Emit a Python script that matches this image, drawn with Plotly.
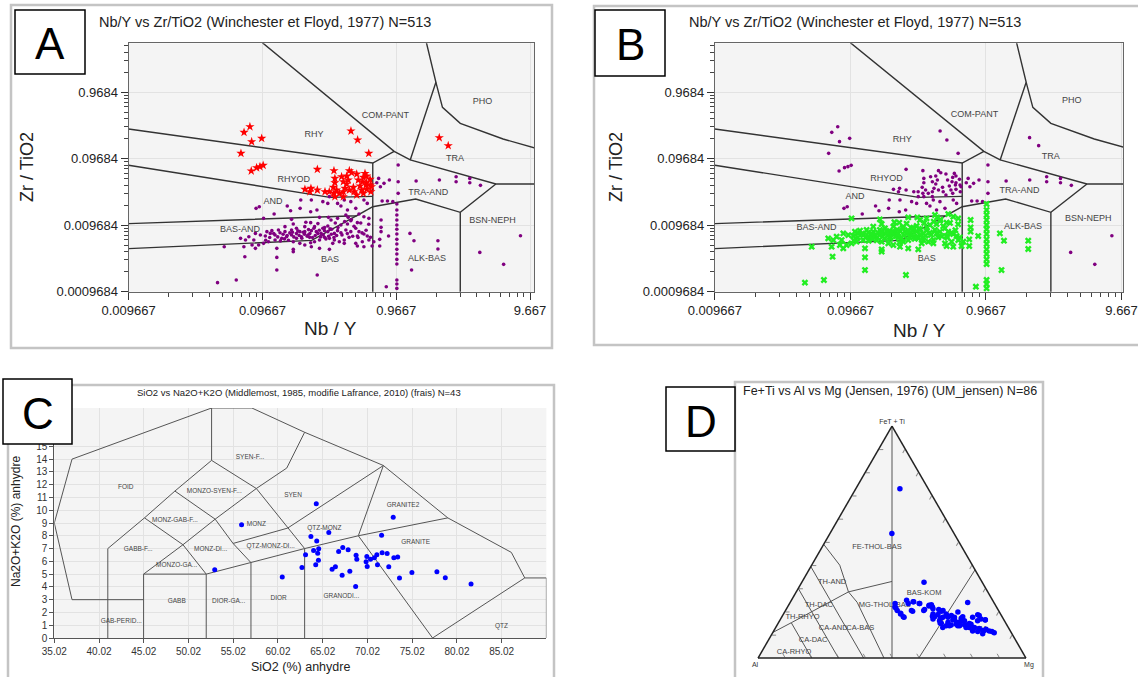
import plotly.graph_objects as go

W, H = 1138, 677
FONT = "Liberation Sans, Arial, Helvetica, sans-serif"


def X(p):
    return p / W


def Y(p):
    return 1 - p / H


# ================= Panels A & B : Nb/Y vs Zr/TiO2 (values stored as log10) =================
nby_ticks = [0.009667, 0.09667, 0.9667, 9.667]
nby_ticktext = ["0.009667", "0.09667", "0.9667", "9.667"]
zrti_ticks = [0.0009684, 0.009684, 0.09684, 0.9684]
zrti_ticktext = ["0.0009684", "0.009684", "0.09684", "0.9684"]

# group 1 : felsic samples (red stars in A, purple in B)
g1_log_nby = [-1.108, -1.152, -1.095, -1.02, -1.175, -1.098, -1.058, -1.033, -1.009, -0.353,
              -0.303, -0.22, -0.604, -0.48, -0.365, -0.348, -0.31, -0.248, -0.236, -0.26,
              -0.473, -0.473, -0.41, -0.385, -0.298, -0.265, -0.21, -0.485, -0.46, -0.398,
              -0.335, -0.285, -0.24, -0.206, -0.697, -0.652, -0.604, -0.66, -0.547, -0.515,
              -0.48, -0.44, -0.41, -0.365, -0.33, -0.473, -0.41, -0.31, -0.26, -0.204,
              -0.199, -0.236, -0.273, -0.385, -0.423, -0.373, -0.236, 0.307, 0.374]
g1_log_zrti = [-0.533, -0.618, -0.758, -0.708, -0.934, -1.199, -1.149, -1.134, -1.114, -0.598,
               -0.733, -0.934, -1.174, -1.194, -1.194, -1.225, -1.245, -1.235, -1.275, -1.295,
               -1.31, -1.375, -1.36, -1.395, -1.335, -1.36, -1.325, -1.445, -1.485, -1.46,
               -1.445, -1.425, -1.41, -1.41, -1.475, -1.46, -1.485, -1.51, -1.51, -1.51,
               -1.535, -1.535, -1.51, -1.485, -1.51, -1.585, -1.585, -1.56, -1.535, -1.51,
               -1.435, -1.475, -1.485, -1.275, -1.285, -1.335, -1.375, -0.698, -0.818]

# group 2 : intermediate / alkaline samples (purple in A and B)
g2_log_nby = [-1.062, -1.038, -0.927, -0.829, -0.804, -0.733, -0.654, -0.607, -0.563, -0.526,
              -0.453, -0.428, -0.403, -0.354, -0.317, -0.379, -0.256, -0.231, -0.728, -0.649,
              -0.514, -0.146, -0.106, -0.066, 0.0, 0.0, 0.0, 0.134, 0.308, 0.433,
              0.433, 0.535, 0.535, 0.615, -0.12, -0.08, -0.04, -0.133, -0.16, 0.914,
              0.61, 0.788]
g2_log_zrti = [-1.761, -1.736, -1.846, -1.726, -1.796, -1.761, -1.811, -1.786, -1.66, -1.686,
               -1.686, -1.726, -1.635, -1.66, -1.761, -1.786, -1.635, -1.686, -1.635, -1.635,
               -1.585, -1.31, -1.385, -1.335, -1.109, -1.36, -1.535, -1.35, -1.335, -1.285,
               -1.36, -1.31, -1.375, -1.415, -1.651, -1.651, -1.66, -1.435, -1.375, -2.172,
               -2.423, -2.603]

# group 3 : mafic samples (purple in A, green crosses in B)
g3_log_nby = [-1.006, -0.797, -0.654, -0.588, -0.521, -0.502, -0.453, -0.391, -0.374, -0.354,
              -0.293, -0.256, -0.219, -0.305, -0.379, -0.428, -0.526, -0.563, -0.625, -0.698,
              -0.784, -0.846, -0.895, -0.944, -0.981, -1.03, -1.067, -1.116, -1.178, -1.141,
              -1.079, -0.993, -0.956, -0.92, -0.883, -0.846, -0.797, -0.76, -0.735, -0.698,
              -0.674, -0.649, -0.612, -0.576, -0.551, -0.526, -0.497, -0.477, -0.453, -0.428,
              -0.391, -0.354, -0.317, -0.293, -0.256, -0.231, -0.207, -0.305, -0.367, -0.403,
              -0.44, -0.477, -0.514, -0.551, -0.588, -0.625, -0.662, -0.723, -0.76, -0.797,
              -0.834, -0.87, -0.92, -0.969, -1.006, -1.043, -1.092, -1.153, -1.3, -0.784,
              -0.735, -0.698, -0.649, -0.588, -0.489, -0.403, -0.317, -0.268, -0.219, -0.182,
              -0.138, -0.128, -0.128, -0.128, -0.072, -0.01, -0.01, -0.01, -0.01, -0.01,
              -0.01, -0.01, -0.01, -0.01, -0.01, -0.01, -0.01, -0.01, -0.01, -0.01,
              -0.01, -0.089, 0.1, 0.088, 0.118, 0.297, 0.297, -0.138, -0.195, -0.256,
              -0.305, -0.784, -0.907, -0.907, -0.907, -1.146, -1.21, -1.35, -0.605, -0.514,
              -0.784, -0.654, -1.067,
              -0.86, -0.83, -0.81, -0.78, -0.76, -0.74, -0.72, -0.70, -0.68, -0.66,
              -0.64, -0.62, -0.60, -0.58, -0.56, -0.54, -0.52, -0.50, -0.48, -0.46,
              -0.90, -0.93, -0.96, -0.99, -0.88, -0.85, -0.82, -0.79, -0.75, -0.71,
              -0.67, -0.63, -0.59, -0.55, -0.51, -0.45, -0.42, -0.38, -0.34, -0.30,
              -0.27, -0.24, -0.22, -0.35, -0.40, -0.47, -0.60, -0.69, -0.33, -0.28]
g3_log_zrti = [-1.911, -1.926, -1.976, -1.896, -1.896, -1.936, -1.911, -1.861, -1.896, -1.946,
               -1.846, -1.886, -1.911, -1.976, -1.996, -2.011, -2.026, -2.061, -2.036, -2.036,
               -1.996, -2.036, -2.086, -2.096, -2.111, -2.162, -2.137, -2.187, -2.212, -2.237,
               -2.237, -2.177, -2.137, -2.162, -2.127, -2.111, -2.086, -2.061, -2.111, -2.111,
               -2.162, -2.096, -2.111, -2.137, -2.096, -2.111, -2.076, -2.137, -2.096, -2.127,
               -2.086, -2.111, -2.061, -2.111, -2.147, -2.177, -2.197, -2.177, -2.197, -2.237,
               -2.262, -2.237, -2.212, -2.197, -2.237, -2.262, -2.197, -2.187, -2.212, -2.162,
               -2.187, -2.212, -2.237, -2.262, -2.287, -2.312, -2.312, -2.337, -2.337, -2.262,
               -2.287, -2.312, -2.337, -2.362, -2.287, -2.287, -2.287, -2.262, -2.237, -2.262,
               -2.227, -1.936, -2.046, -2.111, -2.177, -1.695, -1.786, -1.861, -1.936, -2.011,
               -2.076, -2.147, -2.227, -2.297, -2.377, -2.447, -2.528, -2.598, -2.838, -2.899,
               -2.964, -2.939, -2.688, -2.137, -2.247, -2.247, -2.372, -2.327, -2.327, -2.337,
               -2.327, -2.377, -2.362, -2.498, -2.688, -2.488, -2.838, -2.878, -2.763, -2.377,
               -2.412, -2.277, -2.362,
               -2.15, -2.17, -2.13, -2.19, -2.14, -2.17, -2.21, -2.15, -2.18, -2.14,
               -2.20, -2.17, -2.14, -2.19, -2.16, -2.22, -2.18, -2.15, -2.20, -2.17,
               -2.19, -2.14, -2.20, -2.24, -2.25, -2.22, -2.24, -2.12, -2.10, -2.12,
               -2.08, -2.06, -2.09, -2.05, -2.07, -2.05, -2.16, -2.14, -2.18, -2.20,
               -2.13, -2.09, -2.00, -1.93, -1.96, -1.98, -1.99, -1.97, -2.03, -1.98]

# Winchester & Floyd field boundaries (log10 Nb/Y, log10 Zr/TiO2)
wf_lines = [
    ([-2.0147, -0.19, -0.03], [-0.567, -1.079, -0.904]),
    ([-1.015, -0.03, 0.09, 0.73, 1.02], [0.73, -0.904, -1.033, -1.394, -1.394]),
    ([-0.19, -0.19], [-1.079, -3.02]),
    ([0.09, 0.282, 0.211], [-1.033, 0.134, 0.73]),
    ([0.282, 0.331, 0.464, 0.784, 1.02], [0.134, -0.242, -0.483, -0.718, -0.853]),
    ([-2.0147, -0.76, -0.51, -0.19], [-1.112, -1.52, -1.596, -1.581]),
    ([-2.0147, -0.31, -0.19, 0.131, 0.464, 0.73], [-1.99, -1.871, -1.736, -1.62, -1.82, -1.394]),
    ([-2.0147, -0.646, -0.31], [-2.366, -2.242, -1.871]),
    ([0.464, 0.464], [-1.82, -3.02]),
]
wf_names = ["RHY", "COM-PANT", "PHO", "TRA", "RHYOD", "AND", "TRA-AND", "BSN-NEPH",
            "BAS-AND", "BAS", "ALK-BAS"]
wfA_lab_x = [-0.629, -0.096, 0.63, 0.424, -0.781, -0.935, 0.224, 0.704, -1.183, -0.509, 0.216]
wfA_lab_y = [-0.657, -0.367, -0.152, -1.018, -1.334, -1.661, -1.529, -1.946, -2.086, -2.533, -2.513]
wfB_lab_x = [-0.633, -0.099, 0.618, 0.463, -0.748, -0.981, 0.232, 0.74, -1.264, -0.452, 0.258]
wfB_lab_y = [-0.733, -0.357, -0.142, -0.984, -1.309, -1.585, -1.5, -1.921, -2.052, -2.512, -2.036]

# ================= Panel C : TAS (Middlemost 1985, modified) =================
sio2 = [64.3, 72.9, 65.7, 71.6, 63.7, 64.35, 67.26, 67.86, 66.8, 64.57, 63.1, 64.0, 64.46,
        68.75, 68.83, 69.95, 70.36, 70.8, 71.07, 71.66, 72.22, 72.97, 73.4, 69.87, 69.99,
        71.14, 72.4, 64.54, 64.24, 62.7, 66.44, 66.07, 68.05, 67.19, 74.99, 73.6, 77.78,
        78.72, 81.6, 68.7, 60.5, 55.95, 52.95]
alk = [10.5, 9.45, 8.26, 8.05, 7.94, 7.6, 7.08, 6.9, 6.77, 6.98, 6.51, 6.85, 6.64,
       6.48, 6.17, 6.38, 6.17, 6.28, 6.51, 6.67, 6.61, 6.28, 6.33, 5.96, 5.6,
       5.73, 5.57, 6.09, 5.73, 5.52, 5.57, 5.39, 5.23, 4.92, 5.13, 4.69, 5.18,
       4.71, 4.22, 4.04, 4.77, 8.86, 5.34]
sio2_ticks = [35.02, 40.02, 45.02, 50.02, 55.02, 60.02, 65.02, 70.02, 75.02, 80.02, 85.02]
alk_ticks = [0, 1, 2, 3, 4, 5, 6, 7, 8, 9, 10, 11, 12, 13, 14, 15]
tas_lines = [
    ([45, 37, 35.02, 37, 52.6, 57.1, 63, 71.8, 79, 86.1, 87.6, 90.02, 90.02],
     [3, 3, 9, 14, 18, 18, 16.1, 13.5, 9.4, 6.7, 4.7, 4.7, 0]),
    ([41, 41, 45.1, 48.5, 52.6, 52.6], [0, 7, 9.4, 11.5, 13.9, 18]),
    ([45, 45, 52, 52], [0, 5, 5, 0]),
    ([45, 49.4, 52], [5, 7.3, 5]),
    ([45.1, 49.4, 53, 48.5], [9.4, 7.3, 9.3, 11.5]),
    ([52.6, 57.6, 53, 55, 57, 57], [13.9, 11.7, 9.3, 7.4, 5.9, 0]),
    ([57.6, 61.1, 63, 63], [11.7, 8.6, 7, 0]),
    ([57.6, 61, 63], [11.7, 13.3, 16.1]),
    ([52, 57, 63, 69, 79], [5, 5.9, 7, 8, 9.4]),
    ([55, 61.1, 71.8], [7.4, 8.6, 13.5]),
    ([71.8, 69, 77.3, 87.6], [13.5, 8, 0, 4.7]),
]
tas_names = ["FOID", "SYEN-F...", "MONZO-SYEN-F...", "SYEN", "MONZ-GAB-F...", "MONZ", "QTZ-MONZ",
             "GRANITE2", "GRANITE", "QTZ-MONZ-DI...", "MONZ-DI...", "GABB-F...", "MONZO-GA...",
             "GABB", "DIOR-GA...", "DIOR", "GRANODI...", "GAB-PERID...", "QTZ"]
tas_lab_x = [43.0, 56.9, 52.9, 61.7, 48.5, 57.6, 65.2, 74.0, 75.4, 59.2, 52.5, 44.4, 48.7,
             48.7, 54.5, 60.1, 67.1, 42.5, 85.0]
tas_lab_y = [11.8, 14.1, 11.5, 11.2, 9.24, 8.9, 8.6, 10.4, 7.5, 7.15, 6.96, 6.96, 5.7,
             2.88, 2.9, 3.14, 3.27, 1.3, 0.94]

# ================= Panel D : Jensen (1976) cation plot (%) =================
fe_ti = [72.9, 53.7, 32.7, 24.9, 23.5, 21.5, 19.0, 17.6, 24.2, 23.5,
         20.5, 20.9, 22.4, 23.0, 21.2, 18.0, 20.9, 20.5, 17.1, 15.0,
         19.0, 17.6, 18.3, 16.8, 19.8, 17.1, 15.4, 16.1, 23.9, 14.2,
         14.6, 13.1, 18.6, 16.8, 16.5, 12.7, 11.9, 12.4, 11.6, 10.9,
         13.1, 13.9, 14.2, 13.9, 16.8, 15.0, 22.0, 20.5, 19.3, 17.8,
         23.5, 24.2, 23.5, 20.2, 20.5, 22.7, 22.0, 17.8, 16.1, 20.2,
         18.3, 17.6, 16.1, 18.3, 16.4, 11.9, 14.9, 14.3, 15.4, 14.6,
         16.4, 15.4, 17.6, 18.7, 19.0, 13.9, 13.9, 13.1, 11.6, 11.4,
         10.5, 11.4, 16.1, 17.6, 17.8, 13.1]
al = [10.6, 23.2, 21.7, 32.1, 37.1, 37.8, 37.3, 36.7, 30.0, 27.9,
      32.5, 27.4, 25.0, 23.8, 24.1, 25.9, 22.1, 20.7, 23.4, 24.1,
      20.3, 20.3, 18.7, 18.3, 15.5, 15.6, 18.1, 14.9, 9.8, 15.2,
      13.2, 12.7, 8.7, 8.4, 6.9, 11.1, 10.2, 8.7, 7.9, 6.4,
      14.6, 17.8, 20.8, 22.8, 26.3, 24.5, 37.9, 37.8, 37.1, 36.9,
      32.2, 29.8, 28.1, 32.2, 27.9, 24.8, 23.9, 25.2, 24.2, 21.5,
      20.4, 17.9, 16.1, 8.3, 7.0, 9.6, 13.7, 15.8, 17.1, 18.7,
      19.1, 21.4, 22.2, 23.5, 25.2, 21.6, 18.5, 15.8, 14.1, 12.3,
      10.9, 7.0, 10.0, 11.1, 14.7, 24.5]
mg = [16.5, 23.1, 45.6, 43.0, 39.4, 40.7, 43.7, 45.7, 45.8, 48.6,
      47.0, 51.7, 52.6, 53.2, 54.7, 56.1, 57.0, 58.8, 59.5, 60.9,
      60.7, 62.1, 63.0, 64.9, 64.7, 67.3, 66.5, 69.0, 66.3, 70.6,
      72.2, 74.2, 72.7, 74.8, 76.6, 76.2, 77.9, 78.9, 80.5, 82.7,
      72.3, 68.3, 65.0, 63.3, 56.9, 60.5, 40.1, 41.7, 43.6, 45.3,
      44.3, 46.0, 48.4, 47.6, 51.6, 52.5, 54.1, 57.0, 59.7, 58.3,
      61.3, 64.5, 67.8, 73.4, 76.6, 78.5, 71.4, 69.9, 67.5, 66.7,
      64.5, 63.2, 60.2, 57.8, 55.8, 64.5, 67.6, 71.1, 74.3, 76.3,
      78.6, 81.6, 73.9, 71.3, 67.5, 62.4]
jensen_lines = [
    ([100, 0], [0, 50], [0, 50]),
    ([38, 0], [0, 40], [62, 60]),
    ([11, 15.2, 28.5, 33], [89, 80, 52, 33.5], [0, 4.8, 19.5, 33.5]),
    ([49, 40, 33, 28.5], [51, 49.5, 51, 52], [0, 10.5, 16, 19.5]),
    ([28.5, 24, 0], [52, 51, 53], [19.5, 25, 47]),
    ([39.4, 0], [60.6, 60.6], [0, 39.4]),
    ([30, 0], [70, 70], [0, 30]),
    ([15.2, 0], [80, 80], [4.8, 20]),
]
jensen_names = ["FE-THOL-BAS", "BAS-KOM", "MG-THOL-BAS", "TH-AND", "TH-DAC", "TH-RHYO",
                "CA-AND", "CA-BAS", "CA-DAC", "CA-RHYO", "KOM"]
jensen_lab_a = [48.0, 28.0, 23.0, 32.7, 23.0, 17.8, 12.7, 12.7, 7.7, 2.5, 12.4]
jensen_lab_b = [31.6, 24.0, 41.2, 56.0, 65.8, 74.5, 65.6, 55.5, 75.6, 85.3, 11.8]
jensen_lab_c = [20.4, 48.0, 35.8, 11.3, 11.2, 7.7, 21.7, 31.8, 16.7, 12.2, 75.8]


def pw(v):
    return [10 ** a for a in v]


fig = go.Figure()
LINE_WF = dict(color="#333333", width=1.4)
PURPLE = "#800080"

# ---------- panel A ----------
for lx, ly in wf_lines:
    fig.add_trace(go.Scatter(x=pw(lx), y=pw(ly), mode="lines", line=LINE_WF,
                             xaxis="x", yaxis="y", hoverinfo="skip"))
fig.add_trace(go.Scatter(x=pw(g2_log_nby + g3_log_nby), y=pw(g2_log_zrti + g3_log_zrti),
                         mode="markers", marker=dict(symbol="circle", size=3.6, color=PURPLE),
                         xaxis="x", yaxis="y"))
fig.add_trace(go.Scatter(x=pw(g1_log_nby), y=pw(g1_log_zrti), mode="markers",
                         marker=dict(symbol="star", size=7, color="#ff0000", line=dict(width=0)),
                         xaxis="x", yaxis="y"))
fig.add_trace(go.Scatter(x=pw(wfA_lab_x), y=pw(wfA_lab_y), mode="text", text=wf_names,
                         textfont=dict(size=9, color="#444", family=FONT), xaxis="x", yaxis="y"))

# ---------- panel B ----------
for lx, ly in wf_lines:
    fig.add_trace(go.Scatter(x=pw(lx), y=pw(ly), mode="lines", line=LINE_WF,
                             xaxis="x2", yaxis="y2", hoverinfo="skip"))
fig.add_trace(go.Scatter(x=pw(g1_log_nby + g2_log_nby), y=pw(g1_log_zrti + g2_log_zrti),
                         mode="markers", marker=dict(symbol="circle", size=3.6, color=PURPLE),
                         xaxis="x2", yaxis="y2"))
fig.add_trace(go.Scatter(x=pw(g3_log_nby), y=pw(g3_log_zrti), mode="markers",
                         marker=dict(symbol="x", size=6, color="#22ee22", line=dict(width=0)),
                         xaxis="x2", yaxis="y2"))
fig.add_trace(go.Scatter(x=pw(wfB_lab_x), y=pw(wfB_lab_y), mode="text", text=wf_names,
                         textfont=dict(size=9, color="#444", family=FONT), xaxis="x2", yaxis="y2"))

# ---------- panel C ----------
for lx, ly in tas_lines:
    fig.add_trace(go.Scatter(x=lx, y=ly, mode="lines", line=dict(color="#555555", width=1),
                             xaxis="x3", yaxis="y3", hoverinfo="skip"))
fig.add_trace(go.Scatter(x=tas_lab_x, y=tas_lab_y, mode="text", text=tas_names,
                         textfont=dict(size=6.5, color="#444", family=FONT), xaxis="x3", yaxis="y3"))
fig.add_trace(go.Scatter(x=sio2, y=alk, mode="markers",
                         marker=dict(symbol="circle", size=5, color="#0000ff"),
                         xaxis="x3", yaxis="y3"))

# ---------- panel D ----------
for la, lb, lc in jensen_lines:
    fig.add_trace(go.Scatterternary(a=la, b=lb, c=lc, mode="lines",
                                    line=dict(color="#555555", width=1), subplot="ternary",
                                    hoverinfo="skip"))
fig.add_trace(go.Scatterternary(a=jensen_lab_a, b=jensen_lab_b, c=jensen_lab_c, mode="text",
                                text=jensen_names, textfont=dict(size=7.5, color="#444", family=FONT),
                                subplot="ternary"))
fig.add_trace(go.Scatterternary(a=fe_ti, b=al, c=mg, mode="markers",
                                marker=dict(symbol="circle", size=5.5, color="#0000ff"),
                                subplot="ternary"))

nby_minor = [k * t for t in nby_ticks for k in range(2, 10)]
zrti_minor = [k * t for t in zrti_ticks for k in range(2, 10)]


def wf_axis(dom, rng, anchor, vals, text, minor):
    return dict(type="log", domain=dom, range=rng, anchor=anchor, tickmode="array",
                tickvals=vals, ticktext=text, ticks="outside", ticklen=7, tickwidth=1,
                tickcolor="#333", showline=True, linecolor="#666", linewidth=1, mirror=True,
                showgrid=True, gridcolor="#e2e2e2", zeroline=False, fixedrange=True,
                automargin=False,
                tickfont=dict(size=13, color="#222", family=FONT),
                minor=dict(tickmode="array", tickvals=minor, ticks="outside", ticklen=4,
                           tickcolor="#444", showgrid=False))


tern_axis = dict(showticklabels=False, ticks="inside", ticklen=4, tickcolor="#888",
                 linecolor="#222", linewidth=1.5, showgrid=False, dtick=10, min=0)

fig.update_layout(
    template="none",
    width=W, height=H, autosize=False,
    margin=dict(l=0, r=0, t=0, b=0, pad=0, autoexpand=False),
    paper_bgcolor="white", plot_bgcolor="#f4f4f4", showlegend=False,
    font=dict(family=FONT, color="#222"),
    xaxis=wf_axis([X(128.6), X(534)], [-2.0147, 1.015], "y", nby_ticks, nby_ticktext, nby_minor),
    yaxis=wf_axis([Y(291.7), Y(43.3)], [-3.0139, 0.721], "x", zrti_ticks, zrti_ticktext, zrti_minor),
    xaxis2=wf_axis([X(714.8), X(1123)], [-2.0147, 0.996], "y2", nby_ticks, nby_ticktext, nby_minor),
    yaxis2=wf_axis([Y(291.7), Y(43.3)], [-3.0139, 0.721], "x2", zrti_ticks, zrti_ticktext, zrti_minor),
    xaxis3=dict(domain=[X(54.3), X(546.4)], range=[35.02, 90.02], anchor="y3", tickmode="array",
                tickvals=sio2_ticks, ticktext=[f"{v:.2f}" for v in sio2_ticks], ticks="outside",
                ticklen=4, tickcolor="#555", showline=True, linecolor="#555", showgrid=True,
                gridcolor="#e2e2e2", zeroline=False, fixedrange=True, automargin=False,
                tickfont=dict(size=10, color="#333", family=FONT)),
    yaxis3=dict(domain=[Y(638), Y(408)], range=[0, 18], anchor="x3", tickmode="array",
                tickvals=alk_ticks, ticks="outside", ticklen=4, tickcolor="#555", showline=True,
                linecolor="#555", showgrid=True, gridcolor="#e2e2e2", zeroline=False,
                fixedrange=True, automargin=False, tickfont=dict(size=10, color="#333", family=FONT)),
    ternary=dict(domain=dict(x=[X(758), X(1026)], y=[Y(658), Y(426)]), sum=100, bgcolor="#f4f4f4",
                 aaxis=dict(title=dict(text="FeT + Ti", font=dict(size=7, color="#333")), **tern_axis),
                 baxis=dict(title=dict(text="Al", font=dict(size=7, color="#333")), **tern_axis),
                 caxis=dict(title=dict(text="Mg", font=dict(size=7, color="#333")), **tern_axis)),
)

shapes = []
for x0, y0, x1, y1 in [(11, 5, 552, 348), (594, 6, 1142, 345), (8, 385, 554, 680), (735, 382, 1043, 680)]:
    shapes.append(dict(type="rect", xref="paper", yref="paper", x0=X(x0), x1=X(x1), y0=Y(y1), y1=Y(y0),
                       line=dict(color="#c4c4c4", width=2.5), fillcolor="rgba(0,0,0,0)", layer="above"))
boxes = [("A", 15, 10, 85, 74), ("B", 595, 10, 665, 76), ("C", 3, 379, 72, 444), ("D", 666, 387, 735, 451)]
annotations = []
for letter, x0, y0, x1, y1 in boxes:
    shapes.append(dict(type="rect", xref="paper", yref="paper", x0=X(x0), x1=X(x1), y0=Y(y1), y1=Y(y0),
                       line=dict(color="#000", width=1.5), fillcolor="white", layer="above"))
    annotations.append(dict(text=letter, x=X((x0 + x1) / 2), y=Y((y0 + y1) / 2 + 2), xref="paper",
                            yref="paper", showarrow=False, font=dict(size=44, color="#000", family=FONT),
                            xanchor="center", yanchor="middle"))


def note(text, x, y, size, angle=0, color="#222"):
    annotations.append(dict(text=text, x=X(x), y=Y(y), xref="paper", yref="paper", showarrow=False,
                            font=dict(size=size, color=color, family=FONT), textangle=angle,
                            xanchor="center", yanchor="middle"))


note("Nb/Y vs Zr/TiO2 (Winchester et Floyd, 1977) N=513", 265, 22, 14.5)
note("Nb/Y vs Zr/TiO2 (Winchester et Floyd, 1977) N=513", 855, 22, 14.5)
note("SiO2 vs Na2O+K2O (Middlemost, 1985, modifie Lafrance, 2010) (frais) N=43", 299, 392, 9.5)
note("Fe+Ti vs Al vs Mg (Jensen, 1976) (UM_jensen) N=86", 890, 391, 12.5)
note("Zr / TiO2", 27, 167, 18, -90)
note("Nb / Y", 330, 328, 19)
note("Zr / TiO2", 616, 167, 18, -90)
note("Nb / Y", 919, 330, 19)
note("Na2O+K2O (%) anhydre", 16, 522, 12, -90)
note("SiO2 (%) anhydre", 300, 667, 12.5)

fig.update_layout(shapes=shapes, annotations=annotations)
fig.write_html("out.html", config={"displayModeBar": False, "staticPlot": True},
               post_script="document.body.style.margin='0px';document.body.style.overflow='hidden';")
